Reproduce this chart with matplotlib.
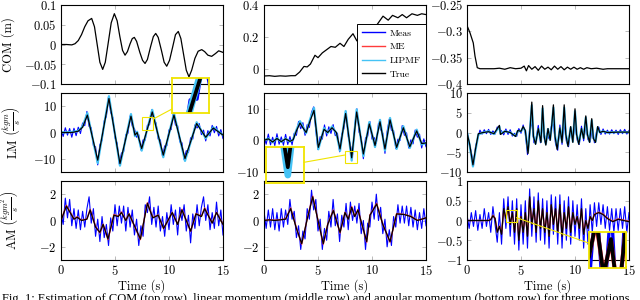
import numpy as np
import matplotlib
matplotlib.use('Agg')
import matplotlib.pyplot as plt
from matplotlib.lines import Line2D
from matplotlib.patches import Rectangle

plt.rcParams['font.family'] = 'serif'
plt.rcParams['font.serif'] = ['cmr10']
plt.rcParams['mathtext.fontset'] = 'cm'
plt.rcParams['axes.formatter.use_mathtext'] = True

# ---------------- data ----------------
t_meas = np.linspace(0, 15, 76)

# COM
com1_t = [0,0.5,1.0,1.3,1.6,1.9,2.2,2.5,2.84,3.1,3.35,3.6,3.86,4.1,4.35,4.65,4.94,5.2,5.45,5.7,5.93,6.15,6.4,6.6,6.79,7.0,7.3,7.55,7.78,8.0,8.3,8.55,8.77,9.0,9.3,9.55,9.79,10.05,10.35,10.6,10.86,11.1,11.35,11.6,11.85,12.1,12.4,12.7,13.03,13.3,13.6,13.95,14.3,14.6,15.0]
com1_true = [0.0,0.0,-0.001,0.002,0.01,0.025,0.045,0.06,0.066,0.045,0.0,-0.045,-0.063,-0.045,0.0,0.055,0.078,0.06,0.02,-0.015,-0.027,-0.018,0.002,0.015,0.018,0.008,-0.02,-0.04,-0.048,-0.038,-0.005,0.02,0.028,0.018,-0.015,-0.045,-0.055,-0.04,-0.005,0.025,0.033,0.015,-0.025,-0.065,-0.082,-0.065,-0.035,-0.017,-0.013,-0.018,-0.027,-0.03,-0.023,-0.016,-0.02]

com2_t = [0,0.5,1.0,1.5,2.0,2.5,2.9,3.3,3.7,4.0,4.3,4.72,5.0,5.4,5.8,6.2,6.6,7.04,7.4,7.8,8.24,8.6,9.17,9.6,10.1,10.5,11.02,11.5,11.9,12.4,12.8,13.2,13.7,14.2,14.6,15.0]
com2_true = [-0.045,-0.043,-0.047,-0.044,-0.046,-0.043,-0.043,-0.02,0.015,0.012,0.03,0.085,0.07,0.1,0.12,0.14,0.135,0.16,0.14,0.185,0.22,0.175,0.24,0.22,0.255,0.28,0.33,0.305,0.335,0.32,0.34,0.32,0.345,0.335,0.345,0.34]

com3_t = [0,0.28,0.58,0.74,0.95,1.2,2.5,3.0,3.5,4.0,4.5,5.0,5.3,5.5,5.7,6.0,6.3,6.6,6.9,7.2,7.5,7.8,8.1,8.4,8.7,9.0,9.3,9.6,9.9,10.2,10.5,10.8,11.1,11.5,12.0,12.6,13.0,15.0]
com3_true = [-0.289,-0.303,-0.322,-0.347,-0.369,-0.371,-0.371,-0.370,-0.372,-0.369,-0.371,-0.370,-0.366,-0.375,-0.365,-0.372,-0.367,-0.374,-0.366,-0.372,-0.368,-0.373,-0.366,-0.372,-0.367,-0.373,-0.368,-0.372,-0.368,-0.372,-0.369,-0.372,-0.369,-0.371,-0.370,-0.372,-0.371,-0.371]

# LM
lm1_t = [0,1.0,1.6,2.0,2.44,3.4,4.44,5.46,6.48,6.85,7.05,7.47,8.45,9.47,10.46,11.48,12.56,13.4,14.1,15]
lm1_true = [0,0,0.5,2,6.6,-10.5,12.9,-11.8,6.2,-1,0,-6.1,7.8,-8.6,6.6,-9.9,3.4,-1.8,1.7,-1]
lm1_lipmf = [0,0.2,0.6,2.3,7.4,-11.6,13.8,-12.6,7.0,-1.4,0.3,-6.9,8.6,-9.4,7.3,-10.8,3.9,-2.2,2.0,-1]
lm1_meas = [1.2,-1.5,1.8,-1.0,1.5,-1.8,1.6,-1.2,2.0,-0.4,
            3.6,2.6,8.0,2.3,1.8,-5.0,-5.4,-12.3,-4.6,-3.0,
            4.4,6.0,13.6,7.6,5.7,-2.1,-4.0,-12.0,-7.8,-7.3,
            -0.8,-0.3,6.3,2.4,1.5,-1.8,-0.8,-6.6,-2.8,-2.9,
            2.8,2.9,8.6,3.9,3.7,-2.5,-2.8,-9.0,-5.1,-5.0,
            1.0,1.1,7.3,2.8,2.6,-3.6,-3.9,-10.3,-6.9,-7.6,
            -2.0,-2.5,2.9,1.7,3.4,-0.8,0.9,-3.2,0.7,-1.3,
            2.7,-0.1,2.3,-1.3,1.1,-2.3]

lm2_t = [0,0.4,0.8,1.2,1.6,2.0,2.4,2.7,3.0,3.33,3.6,3.9,4.25,4.63,5.03,5.56,5.9,6.3,6.7,7.04,7.56,8.12,8.58,9.2,9.75,10.28,10.74,11.2,11.67,12.28,12.9,13.5,14.14,14.6,15]
lm2_true = [0,0.5,-0.5,0.6,-0.4,0.5,-0.3,0.2,3,5.5,4,2.5,6,9.5,-2.2,3.5,2.5,4,2.5,-2.7,8.5,-5.5,9,-4.3,5.2,-1.6,5.9,-2.7,6.5,-2.2,4,-2,3,-1,-0.8]
lm2_lipmf = [0,0.6,-0.6,0.7,-0.5,0.6,-0.4,0.3,3.3,6.1,4.3,2.3,6.5,10.3,-2.8,3.9,2.3,4.4,2.3,-3.3,9.3,-6.4,9.8,-5.0,5.8,-2.1,6.5,-3.2,7.1,-2.7,4.5,-2.4,3.4,-1.3,-0.8]
lm2_meas = [1.3,-1.2,2.0,-1.4,1.0,-1.6,2.1,-1.2,1.1,-1.5,
            1.9,-1.3,1.2,-1.4,2.3,1.6,6.0,3.7,5.6,1.6,
            5.0,4.1,8.9,10.6,3.0,-2.9,1.2,0.4,4.9,1.4,
            4.3,2.2,5.0,1.5,2.3,-3.6,2.0,3.7,9.0,1.3,
            -1.5,-4.6,4.7,10.0,2.6,0.9,-5.8,0.8,1.3,6.0,
            0.4,0.9,-1.0,5.4,3.4,2.3,-4.1,2.8,6.7,3.2,
            3.1,-2.6,0.4,0.0,4.7,1.6,2.4,-2.4,0.2,-1.1,
            3.3,1.0,2.0,-2.4,0.5,-2.0]

lm3_t = [0,0.25,0.55,0.8,1.05,1.5,2.0,2.5,3.0,3.1,3.5,4.0,4.5,4.7,5.0,5.2,5.4,5.65,5.85,6.0,6.15,6.35,6.6,6.85,7.0,7.15,7.3,7.5,7.7,7.85,8.0,8.15,8.35,8.6,8.8,9.0,9.15,9.35,9.6,9.8,10.0,10.15,10.35,10.6,10.8,11.0,11.15,11.35,11.55,11.7,11.9,12.1,12.3,12.6,13,14,15]
lm3_true = [0,-3,-8.2,-4,-0.3, 0,0.2,-0.3,1.8,-0.5, 0.3,0.0,-1.0,0.5,0.3, 1.5,0.5,-5.3,1.5,7.7, -1,-3.0,1.0,-2.5,6.8, -1,-3.2,1.0,-2,2, 7.0,-1,-4.3,1.2,-2.5, 7.0,-0.5,-3.5,1.5,-2.5, 6.0,-0.5,-3.0,1.0,-1.5, 4.2,-0.5,-2.5,3.5,-1.5, -2.5,1.5,0,0.3,0, 0.1,0.1]
lm3_lipmf = [0,-3.3,-8.6,-4.3,-0.5, 0,0.3,-0.4,1.5,-0.3, 0.3,0.0,-0.9,0.4,0.3, 1.3,0.4,-4.8,1.3,6.9, -0.8,-2.8,0.9,-2.3,6.1, -0.8,-2.9,0.9,-1.8,1.8, 6.3,-0.8,-3.9,1.1,-2.3, 6.3,-0.4,-3.2,1.3,-2.3, 5.4,-0.4,-2.7,0.9,-1.4, 3.8,-0.4,-2.3,3.1,-1.4, -2.3,1.3,0,0.3,0, 0.1,0.1]
lm3_meas = [0.5,-2.9,-5.0,-8.3,-3.4,-1.5,0.6,-0.4,0.7,-0.3,
            0.8,-0.5,0.4,-0.4,1.4,0.9,0.4,-0.6,0.9,-0.5,
            0.7,-0.9,-0.2,-1.0,1.0,-0.2,1.9,-0.3,-5.6,0.8,
            2.5,-2.6,-1.4,1.8,-2.6,2.0,-2.4,-0.2,-1.6,1.5,
            2.2,-2.9,-4.5,1.9,-3.0,2.4,-2.2,-3.6,1.0,-1.9,
            2.1,-1.9,-3.0,1.6,-2.1,1.7,-1.8,-2.4,1.2,-2.6,
            0.3,1.4,-0.5,0.9,-0.4,0.6,-0.4,0.7,-0.3,0.6,
            -0.5,0.7,-0.3,0.8,-0.4,0.5]

# AM
am1_t = [0,0.5,1.2,1.5,1.9,2.4,2.7,3.2,3.6,3.9,4.35,4.9,5.3,5.6,6.0,6.3,6.8,7.35,8.0,8.5,9.0,9.5,10.3,10.8,11.2,12.0,12.5,13.0,13.3,14.0,14.4,15.0]
am1_true = [0,1.1,0.1,0.25,0.0,0.1,0.8,-0.5,-0.9,-0.3,-1.4,0.4,0.3,0.6,0.0,0.5,-0.4,-1.4,1.3,0.2,0.4,-0.6,0.6,-0.3,0.8,-0.8,0.5,0.3,0.9,-0.2,0.6,-0.3]
am1_me = [0,1.15,0.12,0.28,0.02,0.12,0.85,-0.45,-0.95,-0.28,-1.45,0.45,0.32,0.65,0.02,0.52,-0.42,-1.45,1.35,0.22,0.42,-0.62,0.62,-0.28,0.85,-0.82,0.52,0.32,0.95,-0.18,0.62,-0.28]
am1_meas = [0.6,-0.3,1.7,0.2,1.6,-0.4,0.9,-0.6,0.8,-0.7,
            0.7,-0.5,0.9,1.8,-0.2,0.9,-1.2,0.1,-1.6,0.3,
            -1.3,-0.3,-1.9,0.2,-0.8,1.2,-0.4,1.1,-0.2,1.1,
            -0.8,1.0,-0.5,0.8,-1.1,0.1,-1.9,-0.4,-1.2,1.2,
            0.6,1.8,-0.3,1.0,-0.5,1.1,-0.8,0.3,-1.2,0.6,
            -0.7,1.2,-0.3,0.8,-1.1,1.0,0.0,1.2,-0.8,0.4,
            -1.7,0.5,-0.6,1.2,-0.4,1.0,1.8,0.0,1.2,-0.7,
            0.6,-0.6,1.4,-0.4,0.8,-1.1]

am2_t = [0,0.5,1.0,1.5,2.0,2.47,3.0,3.49,4.0,4.51,5.0,5.49,5.9,6.42,7.04,7.5,7.8,8.12,8.4,8.7,9.51,9.81,10.43,11.0,11.67,12.28,13.0,13.6,14.2,14.6,15]
am2_true = [0,0.05,0.0,0.05,0.1,0.9,-0.6,-1.75,0.1,1.8,0.0,-1.75,-0.3,0.75,-0.9,0.6,0.1,1.0,0.3,0.8,-1.6,0.4,1.25,-0.3,-1.6,0.5,0.45,0.3,0.0,0.1,0.2]
am2_me = [0,0.06,0.02,0.06,0.12,0.95,-0.55,-1.8,0.12,1.85,0.02,-1.8,-0.28,0.8,-0.95,0.62,0.12,1.05,0.32,0.82,-1.65,0.42,1.3,-0.28,-1.65,0.52,0.46,0.32,0.02,0.1,0.2]
am2_meas = [0.7,-0.6,0.8,-0.5,0.9,-0.7,0.6,-0.8,0.9,-0.5,
            0.8,-0.3,1.6,0.1,0.7,-1.3,-0.4,-2.2,-0.8,-1.4,
            0.9,0.1,2.3,0.8,1.6,-0.8,0.1,-2.2,-0.6,-1.5,
            0.7,-0.5,1.6,-0.4,0.5,-1.6,0.4,-0.5,1.3,-0.7,
            1.4,0.0,1.1,-0.2,1.3,-1.0,0.0,-2.2,-0.2,-0.5,
            1.4,0.1,2.0,0.0,1.0,-1.0,0.1,-2.0,-0.7,-1.9,
            0.3,-0.5,1.2,-0.2,1.1,-0.2,1.1,-0.4,1.0,-0.5,
            0.8,-0.7,0.6,-0.6,0.9,-0.4]

am3_t = [0,0.5,1.0,1.5,2.0] + [round(2.2 + 0.2*i, 2) for i in range(49)] + [12.2,12.6,13.0,13.5,14.0,14.5,15]
am3_true = [0,0.0,0.0,0.0,0.0,
            0.02,0.12,0.05,-0.3,-0.15, -0.35,0.3,0.05,0.35,-0.1, 0.2,-0.3,0.3,-0.5,0.1,
            -0.3,0.2,-0.4,0.6,-0.1, 0.3,-0.3,0.5,-0.2,0.3, -0.3,0.2,-0.4,0.4,-0.1,
            0.3,-0.3,0.4,-0.4,0.2, -0.2,0.35,-0.3,0.2,-0.1, 0.1,-0.2,0.3,-0.35,0.0,
            -0.2,0.1,0.0,0.15,
            0.2,0.15,0.05,-0.03,0.03,0.0,-0.03]
am3_me = [0,0.0,0.0,0.0,0.0,
          0.03,0.13,0.06,-0.28,-0.14, -0.33,0.28,0.06,0.33,-0.09, 0.19,-0.28,0.28,-0.47,0.1,
          -0.28,0.19,-0.38,0.56,-0.09, 0.28,-0.28,0.47,-0.19,0.28, -0.28,0.19,-0.38,0.38,-0.09,
          0.28,-0.28,0.38,-0.38,0.19, -0.19,0.33,-0.28,0.19,-0.09, 0.1,-0.19,0.28,-0.33,0.0,
          -0.19,0.1,0.0,0.16,
          0.21,0.16,0.06,-0.02,0.04,0.01,-0.02]
am3_meas = [0.15,-0.2,0.2,-0.15,0.25,-0.25,0.15,-0.2,0.3,-0.15,
            0.2,-0.3,0.35,-0.1,-0.55,0.2,-0.6,0.55,-0.2,0.6,
            -0.4,0.5,-0.6,0.55,-0.75,0.4,-0.6,0.5,-0.7,0.8,
            -0.4,0.6,-0.55,0.7,-0.5,0.55,-0.6,0.5,-0.7,0.65,
            -0.35,0.6,-0.6,0.65,-0.7,0.5,-0.5,0.6,-0.6,0.5,
            -0.4,0.4,-0.5,0.55,-0.7,0.3,-0.6,0.4,-0.3,0.45,
            -0.15,0.45,-0.1,0.4,-0.2,0.35,-0.25,0.3,-0.3,0.3,
            -0.25,0.3,-0.2,0.35,-0.3,0.2]

legend_labels = ['Meas', 'ME', 'LIPMF', 'True']
x_ticks = [0, 5, 10, 15]
caption = ('Fig. 1: Estimation of COM (top row), linear momentum (middle row) and '
           'angular momentum (bottom row) for three motions.')

# ---------------- style ----------------
C_MEAS = '#0000ff'
C_ME = '#ff3b3b'
C_LIP = '#45c3f5'
C_TRUE = '#000000'
YEL = '#f0e400'

W, H = 640, 300
fig = plt.figure(figsize=(W/100, H/100), dpi=100)

col_left = [61, 264, 467]
row_top = [5, 93, 181]
AX_W, AX_H = 162, 79

def px_rect(x0, y0, x1, y1):
    return [x0/W, 1 - y1/H, (x1-x0)/W, (y1-y0)/H]

def series_com(t, v):
    return [(t, v, C_TRUE, 0.9)]

def series_lm(t, v, lip, meas):
    return [(t_meas, meas, C_MEAS, 0.8), (t, lip, C_LIP, 1.6), (t, v, C_TRUE, 0.9)]

def series_am(t, v, me, meas):
    return [(t_meas, meas, C_MEAS, 0.8), (t, me, C_ME, 1.0), (t, v, C_TRUE, 0.9)]

panels = [
    [series_com(com1_t, com1_true), series_com(com2_t, com2_true), series_com(com3_t, com3_true)],
    [series_lm(lm1_t, lm1_true, lm1_lipmf, lm1_meas), series_lm(lm2_t, lm2_true, lm2_lipmf, lm2_meas),
     series_lm(lm3_t, lm3_true, lm3_lipmf, lm3_meas)],
    [series_am(am1_t, am1_true, am1_me, am1_meas), series_am(am2_t, am2_true, am2_me, am2_meas),
     series_am(am3_t, am3_true, am3_me, am3_meas)],
]

ylims = [[(-0.1, 0.1), (-0.095, 0.4), (-0.4, -0.25)],
         [(-15, 15), (-10, 15), (-10, 10)],
         [(-3, 3), (-3, 3), (-1, 1)]]
yticks = [[[-0.1, -0.05, 0, 0.05, 0.1], [0, 0.2, 0.4], [-0.4, -0.35, -0.3, -0.25]],
          [[-10, 0, 10], [-10, 0, 10], [-10, -5, 0, 5, 10]],
          [[-2, 0, 2], [-2, 0, 2], [-1, -0.5, 0, 0.5, 1]]]
ylabels = ['COM (m)', r'LM $\left(\frac{kgm}{s}\right)$', r'AM $\left(\frac{kgm^2}{s}\right)$']
ylabel_x = [-0.284, -0.24, -0.24]

def fmt(v):
    return '$' + ('%g' % v) + '$'

axes = [[None]*3 for _ in range(3)]
for r in range(3):
    for c in range(3):
        x0 = col_left[c]; y0 = row_top[r]
        ax = fig.add_axes(px_rect(x0, y0, x0 + AX_W, y0 + AX_H))
        axes[r][c] = ax
        for (t, v, col, lw) in panels[r][c]:
            ax.plot(t, v, color=col, lw=lw)
        ax.set_xlim(0, 15)
        ax.set_ylim(*ylims[r][c])
        ax.set_xticks(x_ticks)
        ax.set_yticks(yticks[r][c])
        ax.set_yticklabels([fmt(v) for v in yticks[r][c]])
        if r == 2:
            ax.set_xticklabels([fmt(v) for v in x_ticks])
            ax.set_xlabel('Time (s)', fontsize=9, labelpad=1)
        else:
            ax.set_xticklabels([])
        ax.tick_params(direction='in', top=True, right=True, length=3, width=0.6,
                       color='#b0b0b0', labelsize=9, pad=3)
        for s in ax.spines.values():
            s.set_linewidth(0.8)
        if c == 0:
            ax.set_ylabel(ylabels[r], fontsize=9)
            ax.yaxis.set_label_coords(ylabel_x[r], 0.5)

# legend
handles = [Line2D([], [], color=C_MEAS, lw=1.0), Line2D([], [], color=C_ME, lw=1.0),
           Line2D([], [], color=C_LIP, lw=1.0), Line2D([], [], color=C_TRUE, lw=1.0)]
leg = axes[0][1].legend(handles, legend_labels, loc='lower right', bbox_to_anchor=(1.0, 0.0),
                        borderaxespad=0.0, fancybox=False, edgecolor='black', framealpha=1,
                        fontsize=7, handlelength=2.3, labelspacing=0.5, borderpad=0.55,
                        handletextpad=0.5)
leg.get_frame().set_linewidth(0.7)

# zoom insets (spy)
def spy(ax, series, small, big, conn):
    t0, t1, v0, v1 = small
    ax.add_patch(Rectangle((t0, v0), t1 - t0, v1 - v0, fill=False, ec=YEL, lw=0.8, zorder=5))
    ins = fig.add_axes(px_rect(*big), zorder=10)
    ins.set_facecolor('none')
    for (t, v, col, lw) in series:
        ins.plot(t, v, color=col, lw=lw * 3)
    ins.set_xlim(t0, t1)
    ins.set_ylim(v0, v1)
    ins.set_xticks([])
    ins.set_yticks([])
    for s in ins.spines.values():
        s.set_color(YEL)
        s.set_linewidth(1.3)
    fig.add_artist(Line2D([conn[0]/W, conn[2]/W], [1 - conn[1]/H, 1 - conn[3]/H],
                          color=YEL, lw=0.8))

spy(axes[1][0], panels[1][0], (7.47, 8.55, 1.1, 5.7), (172, 77.5, 209, 113), (153.3, 119, 172, 109))
spy(axes[1][1], panels[1][1], (7.5, 8.58, -7.3, -3.2), (266, 147, 304, 183), (304, 162.3, 345, 155))
spy(axes[2][2], panels[2][2], (3.61, 4.6, -0.04, 0.26), (589.3, 231.7, 625.7, 268.3), (516.7, 217.7, 589.3, 243.3))

fig.text(2/W, 1 - 293/H, caption, family='Liberation Serif', fontsize=9, va='top', ha='left')

fig.savefig('out.png', dpi=100)
